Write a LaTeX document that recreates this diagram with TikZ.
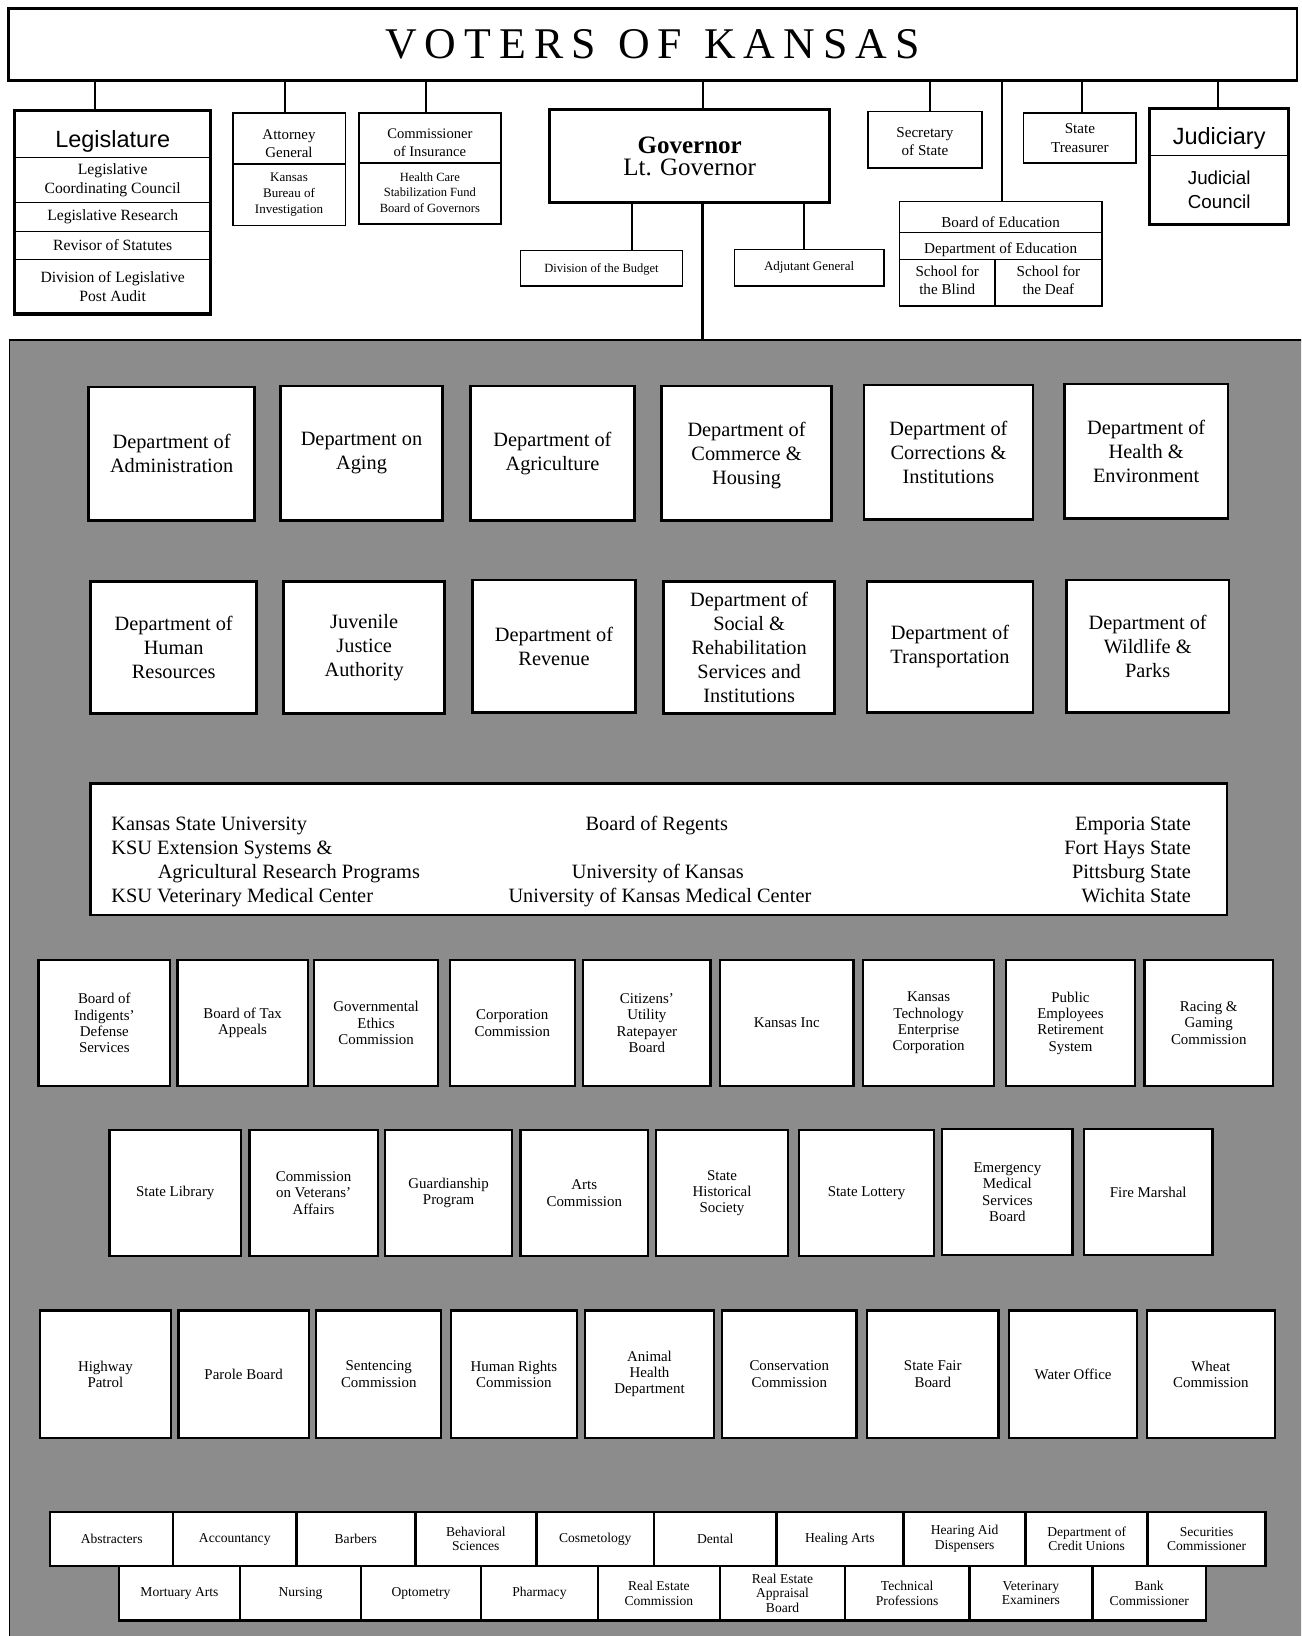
\documentclass[tikz,border=0pt]{standalone}
\usepackage{fontspec}
\setmainfont{Liberation Serif}
\newfontfamily\sansf{Liberation Sans}
\newfontfamily\titlef[LetterSpace=18.5]{Liberation Serif}
\newcommand\fsz[2]{\fontsize{#1}{#2}\selectfont}
% optional arg: vertical shift of the text inside the box
\newcommand\mkbox[8][0pt]{%
  \node[#8, minimum width={(#5-#3)*1pt}, minimum height={(#6-#4)*1pt}] (#2) at ({(#3+#5)/2},{(#4+#6)/2}) {};%
  \node[#8, draw=none, fill=none, minimum width=0pt, minimum height=0pt, yshift=#1] (#2-t) at (#2.center) {#7};}
\definecolor{dotgray}{gray}{0.55}
\tikzset{
  box/.style={draw, fill=white, line width=1.4pt, inner sep=0pt, outer sep=0pt, align=center},
  outerframe/.style={draw, line width=3pt, inner sep=0pt, outer sep=0pt},
  dept/.style={box, line width=2.6pt, font=\fsz{19.5}{23}},
  agency/.style={box, line width=2.2pt, font=\fsz{14.3}{15.6}},
  lic/.style={box, line width=2.4pt, font=\fsz{13}{14}},
  conn/.style={line width=2pt},
  execarea/.style={fill=dotgray, draw, line width=1.6pt, inner sep=0pt, outer sep=0pt},
  rgtext/.style={inner sep=0pt, font=\fsz{19.5}{23}},
}
\begin{document}
\begin{tikzpicture}[x=1pt,y=-1pt]
\useasboundingbox (0,0) rectangle (1247,1568);
\clip (0,0) rectangle (1247,1568);
\fill[white] (0,0) rectangle (1247,1568);

% executive area
\node[execarea, minimum width=1270pt, minimum height=1270pt, anchor=north west] (exec) at (9,326) {};

% title
\mkbox{voters}{8}{8}{1243}{77}{VOTERS\hspace{21pt}OF\hspace{21pt}KANSAS}{box, line width=2.4pt, font=\titlef\fsz{42}{42}}

% Legislature
\mkbox[-7pt]{legT}{14}{106}{202}{151}{Legislature}{box, font=\sansf\fsz{22.5}{24}}
\mkbox{legC}{14}{151}{202}{194.3}{Legislative\\Coordinating Council}{box, font=\fsz{15}{17.9}}
\mkbox{legR}{14}{194.3}{202}{222}{Legislative Research}{box, font=\fsz{15}{17.9}}
\mkbox{legS}{14}{222}{202}{248.6}{Revisor of Statutes}{box, font=\fsz{15}{17.9}}
\mkbox{legA}{14}{248.6}{202}{301}{Division of Legislative\\Post Audit}{box, font=\fsz{15}{17.9}}
\mkbox{leg}{14}{106}{202}{301}{}{outerframe}

% Attorney General
\mkbox[-5pt]{agT}{223}{108}{331}{157}{Attorney\\General}{box, line width=1.6pt, font=\fsz{14.3}{17}}
\mkbox{agK}{223}{157}{331}{216}{Kansas\\Bureau of\\Investigation}{box, line width=1.6pt, font=\fsz{12.5}{15.2}}

% Insurance
\mkbox[-5pt]{insT}{344}{108}{480}{156}{Commissioner\\of Insurance}{box, line width=1.6pt, font=\fsz{14}{17}}
\mkbox[1pt]{insH}{344}{156}{480}{215}{Health Care\\Stabilization Fund\\Board of Governors}{box, line width=1.6pt, font=\fsz{12}{15}}

% Governor
\mkbox{gov}{527}{105}{795}{194}{{\bfseries Governor}\\Lt. Governor}{box, line width=3pt, font=\fsz{24}{21}}
\mkbox[-1.5pt]{budget}{499}{240}{654}{274}{Division of the Budget}{box, line width=1.6pt, font=\fsz{12}{14}}
\mkbox{adj}{704}{239}{847}{274}{Adjutant General}{box, line width=1.6pt, font=\fsz{12.5}{14}}

% Secretary of State, Treasurer
\mkbox[-2pt]{sos}{832}{107}{941}{161}{Secretary\\of State}{box, line width=1.6pt, font=\fsz{14.5}{17}}
\mkbox{tre}{981}{108}{1089}{156}{State\\Treasurer}{box, line width=1.6pt, font=\fsz{14.5}{18}}

% Education
\mkbox[-5pt]{boe}{862}{193}{1056}{222.7}{Board of Education}{box, line width=1.6pt, font=\fsz{14.5}{17.6}}
\mkbox[-4pt]{doe}{862}{222.7}{1056}{248.6}{Department of Education}{box, line width=1.6pt, font=\fsz{14.5}{17.6}}
\mkbox[2pt]{blind}{862}{248.6}{953.7}{293}{School for\\the Blind}{box, line width=1.6pt, font=\fsz{14.5}{17.6}}
\mkbox[2pt]{deaf}{953.7}{248.6}{1056}{293}{School for\\the Deaf}{box, line width=1.6pt, font=\fsz{14.5}{17.6}}

% Judiciary
\mkbox[-6pt]{judT}{1102}{104}{1235}{149}{Judiciary}{box, font=\sansf\fsz{22.5}{24}}
\mkbox{judC}{1102}{149}{1235}{215}{Judicial\\Council}{box, font=\sansf\fsz{18}{23}}
\mkbox{jud}{1102}{104}{1235}{215}{}{outerframe}

% connector columns
\coordinate (xL) at (91,0);
\coordinate (xA) at (273,0);
\coordinate (xI) at (408,0);
\coordinate (xG) at (673.5,0);
\coordinate (xS) at (891.5,0);
\coordinate (xE) at (960,0);
\coordinate (xT) at (1037,0);
\coordinate (xJ) at (1167.5,0);
\coordinate (xB) at (606,0);
\coordinate (xD) at (771,0);

\draw[conn] (voters.south -| xL) -- (leg.north -| xL);
\draw[conn] (voters.south -| xA) -- (agT.north -| xA);
\draw[conn] (voters.south -| xI) -- (insT.north -| xI);
\draw[conn] (voters.south -| xG) -- (gov.north -| xG);
\draw[conn] (voters.south -| xS) -- (sos.north -| xS);
\draw[conn] (voters.south -| xE) -- (boe.north -| xE);
\draw[conn] (voters.south -| xT) -- (tre.north -| xT);
\draw[conn] (voters.south -| xJ) -- (jud.north -| xJ);
\draw[conn] (gov.south -| xB) -- (budget.north -| xB);
\draw[conn] (gov.south -| xD) -- (adj.north -| xD);
\draw[line width=3pt] (gov.south -| xG) -- (exec.north -| xG);

% Row 1 departments
\mkbox{admin}{85}{371}{244}{499}{Department of\\Administration}{dept}
\mkbox{aging}{269}{370}{424}{499}{Department on\\Aging}{dept}
\mkbox{agri}{451}{370}{608}{499}{Department of\\Agriculture}{dept}
\mkbox[-2pt]{commerce}{634}{370}{797}{499}{Department of\\Commerce \&\\Housing}{dept}
\mkbox{correct}{828}{369}{990}{498}{Department of\\Corrections \&\\Institutions}{dept}
\mkbox{health}{1020}{368}{1177}{497}{Department of\\Health \&\\Environment}{dept}

% Row 2 departments
\mkbox{hr}{87}{557}{246}{684}{Department of\\Human\\Resources}{dept}
\mkbox{juv}{272}{557}{426}{684}{Juvenile\\Justice\\Authority}{dept}
\mkbox{rev}{453}{556}{609}{683}{Department of\\Revenue}{dept}
\mkbox{srs}{636}{557}{800}{684}{Department of\\Social \&\\Rehabilitation\\Services and\\Institutions}{dept}
\mkbox{kdot}{831}{557}{990}{683}{Department of\\Transportation}{dept}
\mkbox{wild}{1022}{556}{1178}{683}{Department of\\Wildlife \&\\Parks}{dept}

% Board of Regents
\mkbox{regents}{87}{751}{1176}{877}{}{box, line width=2.6pt}
\node[rgtext, anchor=base west] (rgA) at (106.6,795.5) {Kansas State University};
\node[rgtext, anchor=base west] (rgB) at (106.6,818.8) {KSU Extension Systems \&};
\node[rgtext, anchor=base west] (rgC) at (151,842.1) {Agricultural Research Programs};
\node[rgtext, anchor=base west] (rgD) at (106.6,865.4) {KSU Veterinary Medical Center};
\node[rgtext, anchor=base] (rgE) at (629.5,795.5) {Board of Regents};
\node[rgtext, anchor=base] (rgF) at (630.5,842.1) {University of Kansas};
\node[rgtext, anchor=base] (rgG) at (632.5,865.4) {University of Kansas Medical Center};
\node[rgtext, anchor=base east] (rgH) at (1141.6,795.5) {Emporia State};
\node[rgtext, anchor=base east] (rgI) at (1141.6,818.8) {Fort Hays State};
\node[rgtext, anchor=base east] (rgJ) at (1141.6,842.1) {Pittsburg State};
\node[rgtext, anchor=base east] (rgK) at (1141.6,865.4) {Wichita State};

% Row 3
\mkbox{indig}{37}{920}{163}{1041}{Board of\\Indigents'\\Defense\\Services}{agency}
\mkbox{tax}{170}{920}{295}{1041}{Board of Tax\\Appeals}{agency}
\mkbox{ethics}{301}{920}{420}{1041}{Governmental\\Ethics\\Commission}{agency}
\mkbox{corp}{431}{920}{551}{1041}{Corporation\\Commission}{agency}
\mkbox{curb}{559}{920}{681}{1041}{Citizens'\\Utility\\Ratepayer\\Board}{agency}
\mkbox{kinc}{690}{920}{818}{1041}{Kansas Inc}{agency}
\mkbox{ktec}{827}{920}{953}{1041}{Kansas\\Technology\\Enterprise\\Corporation}{agency}
\mkbox{pers}{964}{920}{1088}{1041}{Public\\Employees\\Retirement\\System}{agency}
\mkbox{racing}{1097}{920}{1220}{1041}{Racing \&\\Gaming\\Commission}{agency}

% Row 4
\mkbox{lib}{105}{1083}{231}{1204}{State Library}{agency}
\mkbox{vet}{239}{1083}{362}{1204}{Commission\\on Veterans'\\Affairs}{agency}
\mkbox{guard}{369}{1083}{491}{1204}{Guardianship\\Program}{agency}
\mkbox{arts}{499}{1083}{621}{1204}{Arts\\Commission}{agency}
\mkbox{hist}{629}{1083}{755}{1204}{State\\Historical\\Society}{agency}
\mkbox{lottery}{766}{1083}{895}{1204}{State Lottery}{agency}
\mkbox{ems}{903}{1082}{1028}{1203}{Emergency\\Medical\\Services\\Board}{agency}
\mkbox{fire}{1039}{1082}{1162}{1203}{Fire Marshal}{agency}

% Row 5
\mkbox{hwy}{38}{1256}{164}{1378}{Highway\\Patrol}{agency}
\mkbox{parole}{171}{1256}{296}{1378}{Parole Board}{agency}
\mkbox{sent}{303}{1256}{423}{1378}{Sentencing\\Commission}{agency}
\mkbox{rights}{432}{1256}{553}{1378}{Human Rights\\Commission}{agency}
\mkbox{animal}{561}{1256}{684}{1378}{Animal\\Health\\Department}{agency}
\mkbox{cons}{692}{1256}{821}{1378}{Conservation\\Commission}{agency}
\mkbox{fair}{831}{1256}{957}{1378}{State Fair\\Board}{agency}
\mkbox{water}{967}{1256}{1090}{1378}{Water Office}{agency}
\mkbox{wheat}{1099}{1256}{1222}{1378}{Wheat\\Commission}{agency}

% Licensing row A
\mkbox{abs}{48}{1449}{166}{1501}{Abstracters}{lic}
\mkbox{acct}{166}{1449}{284}{1501}{Accountancy}{lic}
\mkbox{barb}{284}{1449}{398}{1501}{Barbers}{lic}
\mkbox{behav}{398}{1449}{514}{1501}{Behavioral\\Sciences}{lic}
\mkbox{cosm}{514}{1449}{627}{1501}{Cosmetology}{lic}
\mkbox{dent}{627}{1449}{744}{1501}{Dental}{lic}
\mkbox{heal}{744}{1449}{866}{1501}{Healing Arts}{lic}
\mkbox{hear}{866}{1449}{983}{1501}{Hearing Aid\\Dispensers}{lic}
\mkbox{credit}{983}{1449}{1100}{1501}{Department of\\Credit Unions}{lic}
\mkbox{secur}{1100}{1449}{1213}{1501}{Securities\\Commissioner}{lic}

% Licensing row B
\mkbox{mort}{114}{1501}{230}{1553}{Mortuary Arts}{lic}
\mkbox{nurs}{230}{1501}{346}{1553}{Nursing}{lic}
\mkbox{opt}{346}{1501}{461}{1553}{Optometry}{lic}
\mkbox{pharm}{461}{1501}{573}{1553}{Pharmacy}{lic}
\mkbox{rec}{573}{1501}{690}{1553}{Real Estate\\Commission}{lic}
\mkbox{reab}{690}{1501}{810}{1553}{Real Estate\\Appraisal\\Board}{lic}
\mkbox{tech}{810}{1501}{929}{1553}{Technical\\Professions}{lic}
\mkbox{vetx}{929}{1501}{1047}{1553}{Veterinary\\Examiners}{lic}
\mkbox{bank}{1047}{1501}{1156}{1553}{Bank\\Commissioner}{lic}
\end{tikzpicture}
\end{document}
